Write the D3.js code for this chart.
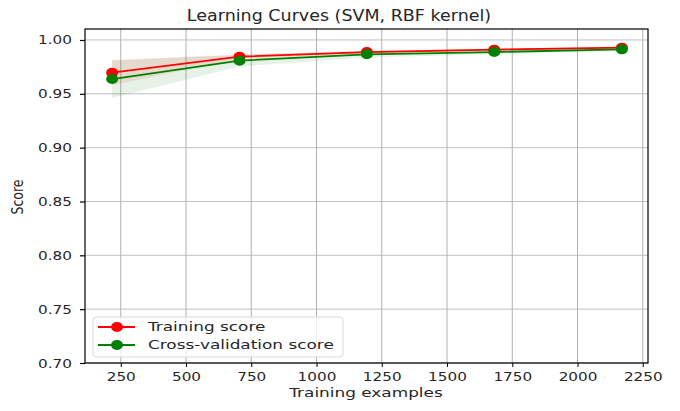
<!DOCTYPE html>
<html><head><meta charset="utf-8">
<script src="https://cdn.jsdelivr.net/npm/d3@7"></script>
<style>body{margin:0;background:#fff}svg{display:block}text{font-family:"DejaVu Sans",sans-serif;fill:#262626}</style>
</head><body><svg id="c" width="680" height="411"></svg>
<script>
const trainSizes = [217, 705, 1193, 1681, 2170];
const trainMean  = [0.9696, 0.9845, 0.9888, 0.9910, 0.9929];
const trainStd   = [0.0115, 0.0020, 0.0012, 0.0010, 0.0008];
const testMean   = [0.9637, 0.9808, 0.9867, 0.9888, 0.9913];
const testStd    = [0.0175, 0.0055, 0.0030, 0.0020, 0.0015];
const xTicks = [250, 500, 750, 1000, 1250, 1500, 1750, 2000, 2250];
const yTicks = [0.70, 0.75, 0.80, 0.85, 0.90, 0.95, 1.00];

const SX = 1.22; // horizontal stretch of the reference image
const svg = d3.select("#c");
const L = 85, R = 648, T = 29, B = 363;
const x = d3.scaleLinear().domain([113, 2270]).range([L, R]);
const y = d3.scaleLinear().domain([0.70, 1.0102]).range([B, T]);

// grid
svg.append("g").selectAll("line").data(xTicks).join("line")
  .attr("x1", d => x(d)).attr("x2", d => x(d)).attr("y1", T).attr("y2", B)
  .attr("stroke", "#b0b0b0").attr("stroke-width", 1);
svg.append("g").selectAll("line").data(yTicks).join("line")
  .attr("x1", L).attr("x2", R).attr("y1", d => y(d)).attr("y2", d => y(d))
  .attr("stroke", "#b0b0b0").attr("stroke-width", 0.8);

const idx = d3.range(trainSizes.length);
const area = (m, s) => d3.area().x(i => x(trainSizes[i])).y0(i => y(m[i] - s[i])).y1(i => y(m[i] + s[i]))(idx);
svg.append("path").attr("d", area(trainMean, trainStd)).attr("fill", "red").attr("fill-opacity", 0.1);
svg.append("path").attr("d", area(testMean, testStd)).attr("fill", "green").attr("fill-opacity", 0.1);

const line = m => d3.line().x(i => x(trainSizes[i])).y(i => y(m[i]))(idx);
function series(m, col) {
  svg.append("path").attr("d", line(m)).attr("fill", "none").attr("stroke", col).attr("stroke-width", 1.8);
  svg.append("g").selectAll("ellipse").data(idx).join("ellipse")
    .attr("cx", i => x(trainSizes[i])).attr("cy", i => y(m[i])).attr("rx", 6).attr("ry", 5).attr("fill", col);
}
series(trainMean, "red");
series(testMean, "green");

// axes
const xa = svg.append("g").attr("transform", `translate(0,${B})`)
  .call(d3.axisBottom(x).tickValues(xTicks).tickFormat(d3.format("d")).tickSize(4).tickPadding(5));
const ya = svg.append("g").attr("transform", `translate(${L},0)`)
  .call(d3.axisLeft(y).tickValues(yTicks).tickFormat(d3.format(".2f")).tickSize(5).tickPadding(8));
[xa, ya].forEach(a => {
  a.select(".domain").remove();
  a.selectAll("text").style("font-size", "12.5px").style("font-family", "DejaVu Sans").attr("fill", "#262626");
  a.selectAll("line").attr("stroke", "#000");
});
ya.selectAll("line").attr("stroke-width", 1.2);
xa.selectAll("text").attr("transform", `scale(${SX},1)`);
ya.selectAll("text").each(function () {
  const t = d3.select(this); const xx = +t.attr("x");
  t.attr("x", 0).attr("transform", `translate(${xx},0) scale(${SX},1)`);
});
svg.append("rect").attr("x", L).attr("y", T).attr("width", R - L).attr("height", B - T)
  .attr("fill", "none").attr("stroke", "#000").attr("stroke-width", 1.2);

// labels
function stretchedText(px, py, str, size, sx) {
  return svg.append("text").attr("transform", `translate(${px},${py}) scale(${sx},1)`)
    .attr("text-anchor", "middle").style("font-size", size + "px").text(str);
}
stretchedText(339, 21, "Learning Curves (SVM, RBF kernel)", 15.5, 1.13);
stretchedText(366, 397, "Training examples", 13, 1.3);
svg.append("text").attr("transform", "translate(23,197) scale(1.25,1) rotate(-90)").attr("text-anchor", "middle")
  .style("font-size", "12.5px").text("Score");

// legend
const lg = svg.append("g");
lg.append("rect").attr("x", 93).attr("y", 317).attr("width", 250).attr("height", 40).attr("rx", 3)
  .attr("fill", "#fff").attr("fill-opacity", 0.8).attr("stroke", "#d9d9d9");
const items = [["Training score", "red"], ["Cross-validation score", "green"]];
items.forEach(([t, c], k) => {
  const yy = 327 + k * 18;
  lg.append("line").attr("x1", 98).attr("x2", 135).attr("y1", yy).attr("y2", yy).attr("stroke", c).attr("stroke-width", 1.8);
  lg.append("ellipse").attr("cx", 117).attr("cy", yy).attr("rx", 6).attr("ry", 5).attr("fill", c);
  lg.append("text").attr("transform", `translate(148,${yy + 4}) scale(1.3,1)`).style("font-size", "13px").text(t);
});
</script></body></html>
